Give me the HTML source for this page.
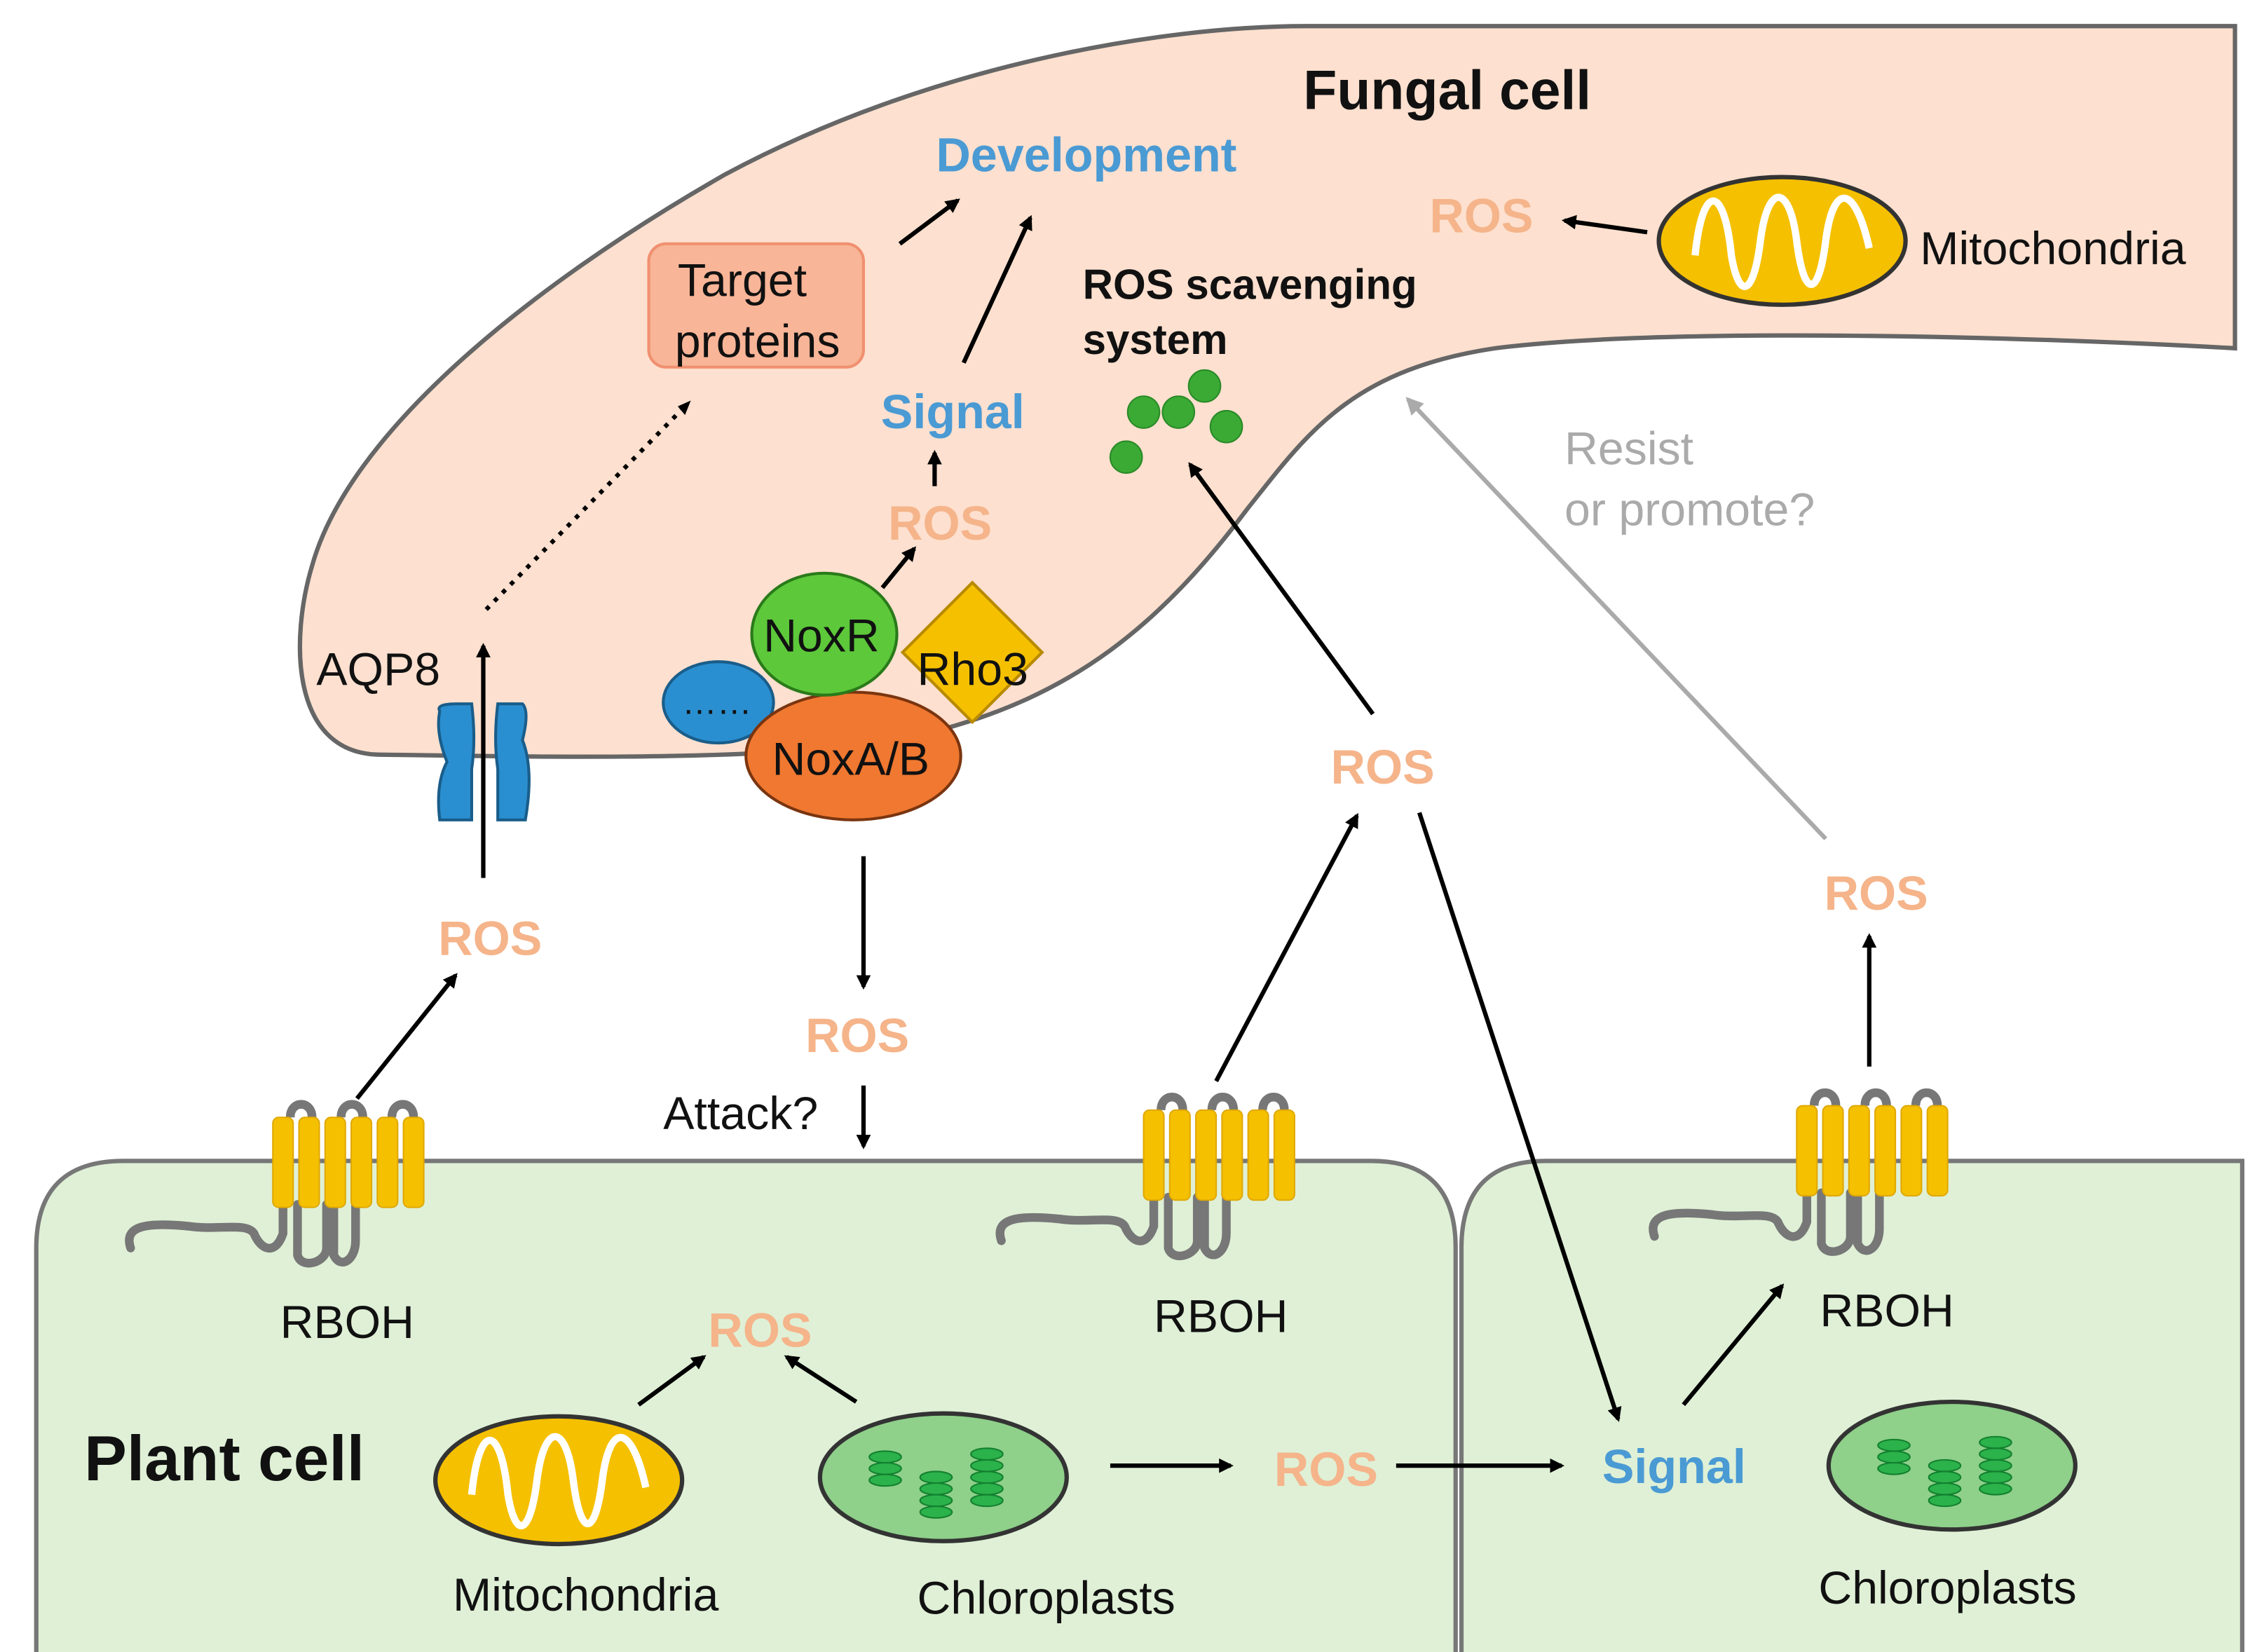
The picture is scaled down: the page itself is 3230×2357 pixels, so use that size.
<!DOCTYPE html>
<html><head><meta charset="utf-8"><style>
html,body{margin:0;padding:0;background:#fff;}
svg{display:block;}
text{font-family:"Liberation Sans",Arial,sans-serif;}
.ros{fill:#f5b48a;font-weight:bold;font-size:33px;}
.blue{fill:#4a9ad4;font-weight:bold;font-size:33px;}
.lbl{fill:#111;font-size:32px;}
</style></head><body>
<svg width="3230" height="2357" viewBox="0 0 1560 1138.4" preserveAspectRatio="none" xmlns="http://www.w3.org/2000/svg">
<defs>
<marker id="ah" markerWidth="10" markerHeight="10" refX="8" refY="5" orient="auto" markerUnits="userSpaceOnUse"><path d="M0,0 L10,5 L0,10 z" fill="#000"/></marker>
<marker id="ahg" markerWidth="12" markerHeight="12" refX="10" refY="6" orient="auto" markerUnits="userSpaceOnUse"><path d="M0,0 L12,6 L0,12 z" fill="#aaa"/></marker>
<g id="rboh">
<path d="M0,90 C-5,75 10,72 40,75 C60,78 80,72 85,80 C90,92 100,95 105,80 L105,60 M115,60 L115,95 C118,105 135,100 135,90 L135,60 M140,60 L140,95 C145,105 155,98 155,85 L155,60" fill="none" stroke="#777" stroke-width="6" stroke-linecap="round"/>
<path d="M110,0 C110,-12 125,-12 125,0 M145,0 C145,-12 160,-12 160,0 M180,0 C180,-12 195,-12 195,0" fill="none" stroke="#777" stroke-width="6"/>
<rect x="98" y="0" width="14" height="62" rx="4" fill="#f5c000" stroke="#e0a800"/>
<rect x="116" y="0" width="14" height="62" rx="4" fill="#f5c000" stroke="#e0a800"/>
<rect x="134" y="0" width="14" height="62" rx="4" fill="#f5c000" stroke="#e0a800"/>
<rect x="152" y="0" width="14" height="62" rx="4" fill="#f5c000" stroke="#e0a800"/>
<rect x="170" y="0" width="14" height="62" rx="4" fill="#f5c000" stroke="#e0a800"/>
<rect x="188" y="0" width="14" height="62" rx="4" fill="#f5c000" stroke="#e0a800"/>
</g>
<g id="mito">
<ellipse cx="0" cy="0" rx="85" ry="44" fill="#f5c000" stroke="#333" stroke-width="3"/>
<path d="M-60,10 C-55,-40 -40,-40 -35,10 C-30,40 -20,40 -15,0 C-10,-40 5,-40 10,0 C15,40 25,40 30,0 C35,-40 50,-40 60,5" fill="none" stroke="#fff" stroke-width="5"/>
</g>
<g id="chl">
<ellipse cx="0" cy="0" rx="85" ry="44" fill="#8fd08a" stroke="#333" stroke-width="3"/>
<g fill="#2bb24a" stroke="#138030" stroke-width="1">
<ellipse cx="-40" cy="-14" rx="11" ry="4"/><ellipse cx="-40" cy="-6" rx="11" ry="4"/><ellipse cx="-40" cy="2" rx="11" ry="4"/>
<ellipse cx="-5" cy="0" rx="11" ry="4"/><ellipse cx="-5" cy="8" rx="11" ry="4"/><ellipse cx="-5" cy="16" rx="11" ry="4"/><ellipse cx="-5" cy="24" rx="11" ry="4"/>
<ellipse cx="30" cy="-16" rx="11" ry="4"/><ellipse cx="30" cy="-8" rx="11" ry="4"/><ellipse cx="30" cy="0" rx="11" ry="4"/><ellipse cx="30" cy="8" rx="11" ry="4"/><ellipse cx="30" cy="16" rx="11" ry="4"/>
</g>
</g>
</defs>
<rect width="1560" height="1138.4" fill="#fff"/>
<!-- plant cells -->
<path d="M25,1140 L25,860 Q25,800 85,800 L945,800 Q1003,800 1003,860 L1003,1140 Z" fill="#dff0d6" stroke="#777" stroke-width="3"/>
<path d="M1007,1140 L1007,860 Q1007,800 1065,800 L1545,800 L1545,1140 Z" fill="#dff0d6" stroke="#777" stroke-width="3"/>
<!-- fungal cell -->
<path d="M1540,18 L1540,240 C1400,232 1150,225 1030,240 C930,255 900,300 860,350 C800,430 740,480 640,505 C560,525 400,522 260,520 C200,518 200,440 215,390 C240,300 360,200 500,120 C640,45 800,18 900,18 Z" fill="#fde0cf" stroke="#666" stroke-width="3"/>
<text x="898" y="75" font-size="38" font-weight="bold" fill="#111">Fungal cell</text>
<text x="645" y="118" class="blue">Development</text>
<text x="985" y="160" class="ros">ROS</text>
<line x1="1135" y1="160" x2="1078" y2="152" stroke="#000" stroke-width="3" marker-end="url(#ah)"/>
<use href="#mito" x="1228" y="166"/>
<text x="1323" y="182" class="lbl">Mitochondria</text>
<rect x="447" y="168" width="148" height="85" rx="12" fill="#f8b597" stroke="#f09070" stroke-width="2"/>
<text x="467" y="204" class="lbl">Target</text>
<text x="465" y="246" class="lbl">proteins</text>
<line x1="620" y1="168" x2="660" y2="138" stroke="#000" stroke-width="3" marker-end="url(#ah)"/>
<line x1="664" y1="250" x2="710" y2="150" stroke="#000" stroke-width="3" marker-end="url(#ah)"/>
<text x="607" y="295" class="blue">Signal</text>
<line x1="644" y1="335" x2="644" y2="312" stroke="#000" stroke-width="3" marker-end="url(#ah)"/>
<text x="612" y="372" class="ros">ROS</text>
<text x="746" y="206" font-size="29" font-weight="bold" fill="#111">ROS scavenging</text>
<text x="746" y="244" font-size="29" font-weight="bold" fill="#111">system</text>
<g fill="#3aaa35" stroke="#2a8a28"><circle cx="788" cy="284" r="11"/><circle cx="812" cy="284" r="11"/><circle cx="830" cy="266" r="11"/><circle cx="845" cy="294" r="11"/><circle cx="776" cy="315" r="11"/></g>
<text x="1078" y="320" font-size="32" fill="#aaa">Resist</text>
<text x="1078" y="362" font-size="32" fill="#aaa">or promote?</text>
<line x1="1258" y1="578" x2="970" y2="275" stroke="#aaa" stroke-width="3" marker-end="url(#ahg)"/>
<!-- AQP8 -->
<line x1="333" y1="420" x2="333" y2="420" />
<line x1="335" y1="420" x2="470" y2="282" stroke="#000" stroke-width="3" stroke-dasharray="3,5"/>
<path d="M467,280 L476,276 L472,286 z" fill="#000"/>
<text x="218" y="472" class="lbl">AQP8</text>
<path d="M303,490 Q300,485 315,485 L325,485 Q328,510 325,530 L325,565 L303,565 Q300,540 308,525 Q300,505 303,490 Z" fill="#2a8fd0" stroke="#1a5d8a" stroke-width="2"/>
<path d="M343,485 L360,485 Q365,490 360,510 Q368,530 362,565 L343,565 L343,530 Q340,510 343,485 Z" fill="#2a8fd0" stroke="#1a5d8a" stroke-width="2"/>
<line x1="333" y1="605" x2="333" y2="445" stroke="#000" stroke-width="3" marker-end="url(#ah)"/>
<!-- Nox complex -->
<ellipse cx="495" cy="484" rx="38" ry="28" fill="#2a8fd0" stroke="#1a5d8a" stroke-width="2"/>
<text x="470" y="492" font-size="24" fill="#111">……</text>
<ellipse cx="588" cy="521" rx="74" ry="44" fill="#f07830" stroke="#7a3510" stroke-width="2"/>
<text x="532" y="534" class="lbl">NoxA/B</text>
<rect x="630" y="418" width="68" height="68" fill="#f5c000" stroke="#b88a00" stroke-width="2" transform="rotate(45 670 458)"/>
<text x="632" y="472" class="lbl">Rho3</text>
<ellipse cx="568" cy="437" rx="50" ry="42" fill="#5cc83a" stroke="#2a7a1a" stroke-width="2"/>
<text x="526" y="449" class="lbl">NoxR</text>
<line x1="608" y1="405" x2="630" y2="378" stroke="#000" stroke-width="3" marker-end="url(#ah)"/>
<line x1="595" y1="590" x2="595" y2="680" stroke="#000" stroke-width="3" marker-end="url(#ah)"/>
<text x="555" y="725" class="ros">ROS</text>
<text x="457" y="778" class="lbl">Attack?</text>
<line x1="595" y1="748" x2="595" y2="790" stroke="#000" stroke-width="3" marker-end="url(#ah)"/>
<!-- left RBOH -->
<use href="#rboh" x="90" y="770"/>
<text x="193" y="922" class="lbl">RBOH</text>
<line x1="246" y1="757" x2="314" y2="672" stroke="#000" stroke-width="3" marker-end="url(#ah)"/>
<text x="302" y="658" class="ros">ROS</text>
<!-- middle RBOH -->
<use href="#rboh" x="690" y="765"/>
<text x="795" y="918" class="lbl">RBOH</text>
<line x1="838" y1="745" x2="935" y2="562" stroke="#000" stroke-width="3" marker-end="url(#ah)"/>
<text x="917" y="540" class="ros">ROS</text>
<line x1="946" y1="492" x2="820" y2="320" stroke="#000" stroke-width="3" marker-end="url(#ah)"/>
<line x1="978" y1="560" x2="1115" y2="978" stroke="#000" stroke-width="3" marker-end="url(#ah)"/>
<!-- right RBOH -->
<use href="#rboh" x="1140" y="762"/>
<text x="1254" y="914" class="lbl">RBOH</text>
<line x1="1288" y1="735" x2="1288" y2="645" stroke="#000" stroke-width="3" marker-end="url(#ah)"/>
<text x="1257" y="627" class="ros">ROS</text>
<line x1="1160" y1="968" x2="1228" y2="886" stroke="#000" stroke-width="3" marker-end="url(#ah)"/>
<!-- plant interior -->
<text x="58" y="1020" font-size="44" font-weight="bold" fill="#111">Plant cell</text>
<use href="#mito" x="385" y="1020"/>
<text x="312" y="1110" class="lbl">Mitochondria</text>
<use href="#chl" x="650" y="1018"/>
<text x="632" y="1112" class="lbl">Chloroplasts</text>
<text x="488" y="928" class="ros">ROS</text>
<line x1="440" y1="968" x2="485" y2="935" stroke="#000" stroke-width="3" marker-end="url(#ah)"/>
<line x1="590" y1="966" x2="542" y2="935" stroke="#000" stroke-width="3" marker-end="url(#ah)"/>
<line x1="765" y1="1010" x2="848" y2="1010" stroke="#000" stroke-width="3" marker-end="url(#ah)"/>
<text x="878" y="1024" class="ros">ROS</text>
<line x1="962" y1="1010" x2="1076" y2="1010" stroke="#000" stroke-width="3" marker-end="url(#ah)"/>
<text x="1104" y="1022" class="blue">Signal</text>
<use href="#chl" x="1345" y="1010"/>
<text x="1253" y="1105" class="lbl">Chloroplasts</text>
</svg>
</body></html>
